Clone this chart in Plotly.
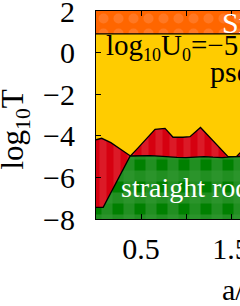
import plotly.graph_objects as go

# ---- data ----
x_red = [0.0, 0.063, 0.165, 0.265, 0.36, 0.383, 0.465, 0.565, 0.656, 0.767, 0.856,
         0.967, 1.044, 1.161, 1.265, 1.365, 1.467, 1.56, 1.65]
red_top = [-4.19, -4.12, -4.33, -4.63, -4.92, -4.97, -4.59, -4.12, -3.69, -3.64, -4.07,
           -4.07, -4.04, -3.60, -4.08, -4.54, -5.0, -5.0, -4.6]

x_green = [0.0, 0.08, 0.38, 0.5, 0.6, 0.7, 0.8, 0.9, 1.0, 1.1, 1.2, 1.3, 1.4, 1.5, 1.6, 1.7]
green_top = [-7.44, -7.44, -4.97, -4.96, -4.95, -4.98, -5.02, -5.04, -5.05, -5.03, -5.0,
             -5.03, -5.05, -5.01, -4.98, -4.98]

smectic_low = 0.9
x_lo, x_hi, x_ext = 0.0, 1.6, 1.7
y_lo, y_hi = -8, 2

x_tick_labels = ["0.5", "1.5"]
x_tick_vals = [0.5, 1.5]
y_tick_vals = [-8, -6, -4, -2, 0, 2]

FONT = "Liberation Serif"

fig = go.Figure()

# yellow region
fig.add_trace(go.Scatter(
    x=[x_lo, x_ext, x_ext, x_lo], y=[y_lo, y_lo, smectic_low, smectic_low],
    fill="toself", fillcolor="#FFCC00", mode="lines", line=dict(width=0),
    hoverinfo="skip", showlegend=False))

# orange region (dotted)
fig.add_trace(go.Scatter(
    x=[x_lo, x_ext, x_ext, x_lo], y=[smectic_low, smectic_low, y_hi, y_hi],
    fill="toself", fillcolor="#FF6600", mode="lines", line=dict(width=0),
    fillpattern=dict(shape=".", bgcolor="#FF6600", fgcolor="#FF8A45",
                     size=15, solidity=0.35),
    hoverinfo="skip", showlegend=False))
fig.add_trace(go.Scatter(
    x=[x_lo, x_ext], y=[smectic_low, smectic_low], mode="lines",
    line=dict(color="black", width=1.3), hoverinfo="skip", showlegend=False))

# red region (striped)
fig.add_trace(go.Scatter(
    x=x_red + x_red[::-1], y=red_top + [y_lo] * len(x_red),
    fill="toself", fillcolor="#D60010", mode="lines", line=dict(width=0),
    fillpattern=dict(shape="|", bgcolor="#D60010", fgcolor="#E2343E",
                     size=14, solidity=0.5),
    hoverinfo="skip", showlegend=False))
fig.add_trace(go.Scatter(
    x=x_red, y=red_top, mode="lines",
    line=dict(color="black", width=1.3), hoverinfo="skip", showlegend=False))

# green region (checker-like)
fig.add_trace(go.Scatter(
    x=x_green + x_green[::-1], y=green_top + [y_lo] * len(x_green),
    fill="toself", fillcolor="#008000", mode="lines", line=dict(width=0),
    fillpattern=dict(shape="|", bgcolor="#008000", fgcolor="#2E952E",
                     fgopacity=0.7, size=22, solidity=0.5),
    hoverinfo="skip", showlegend=False))
fig.add_trace(go.Scatter(
    x=x_green + x_green[::-1], y=green_top + [y_lo] * len(x_green),
    fill="toself", fillcolor="rgba(0,0,0,0)", mode="lines", line=dict(width=0),
    fillpattern=dict(shape="-", bgcolor="rgba(0,0,0,0)", fgcolor="#2E952E",
                     fgopacity=0.7, size=22, solidity=0.5),
    hoverinfo="skip", showlegend=False))
fig.add_trace(go.Scatter(
    x=x_green, y=green_top, mode="lines",
    line=dict(color="black", width=1.3), hoverinfo="skip", showlegend=False))

SUB = '<sub><span style="font-size:18px">{}</span></sub>'

ann_font = dict(family=FONT, size=30, color="black")
fig.add_annotation(x=0.09, y=0.27, xref="x", yref="y", xanchor="left", yanchor="middle",
                   text="log" + SUB.format("10") + "U" + SUB.format("0") + "=−5.12",
                   showarrow=False, font=dict(family=FONT, size=29, color="black"))
fig.add_annotation(x=1.24, y=-0.93, xref="x", yref="y", xanchor="left", yanchor="middle",
                   text="pseudo-nematic", showarrow=False, font=ann_font)
fig.add_annotation(x=0.25, y=-6.5, xref="x", yref="y", xanchor="left", yanchor="middle",
                   text="straight rods", showarrow=False,
                   font=dict(family=FONT, size=28, color="white"))
fig.add_annotation(x=1.38, y=1.45, xref="x", yref="y", xanchor="left", yanchor="middle",
                   text="Smectic", showarrow=False,
                   font=dict(family=FONT, size=30, color="white"))

# axis titles
fig.add_annotation(x=0.86, y=-0.337, xref="paper", yref="paper", xanchor="left",
                   yanchor="middle", text="a/σ", showarrow=False, font=ann_font)
fig.add_annotation(x=-0.5625, y=0.43, xref="paper", yref="paper", xanchor="center",
                   yanchor="middle", text="log<sub>10</sub>T", textangle=-90,
                   showarrow=False, font=dict(family=FONT, size=31, color="black"))

fig.update_layout(
    width=240, height=306,
    margin=dict(l=96, r=0, t=11, b=87, autoexpand=False),
    paper_bgcolor="white", plot_bgcolor="white",
    font=dict(family=FONT, size=30, color="black"),
    xaxis=dict(range=[x_lo, x_hi], tickvals=x_tick_vals, ticktext=x_tick_labels,
               ticks="inside", ticklen=5, tickcolor="black", showline=True,
               linecolor="black", linewidth=1, mirror="ticks", showgrid=False,
               zeroline=False, tickfont=dict(family=FONT, size=30, color="black"),
               ticklabelstandoff=3, ticklabeloverflow="allow",
               minor=dict(dtick=0.5, tick0=0, ticks="inside", ticklen=5,
                          tickcolor="black", showgrid=False)),
    yaxis=dict(range=[y_lo, y_hi], tickvals=y_tick_vals, ticks="inside", ticklen=5,
               tickcolor="black", showline=True, linecolor="black", linewidth=1,
               showgrid=False, zeroline=False, ticklabeloverflow="allow",
               tickfont=dict(family=FONT, size=30, color="black"),
               ticklabelstandoff=14),
)

fig.write_html(
    "out.html",
    config={"displayModeBar": False},
    post_script="document.body.style.margin='0';document.body.style.overflow='hidden';",
)
